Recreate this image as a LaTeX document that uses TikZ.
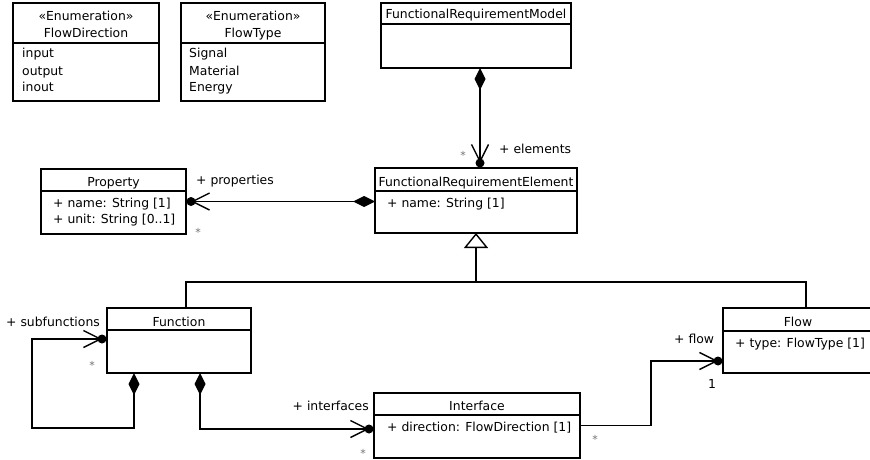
\documentclass[tikz,border=0pt]{standalone}
\usepackage{fontspec}
\setmainfont{DejaVu Sans}
\usetikzlibrary{arrows.meta}

\tikzset{
  clsbox/.style={draw, line width=1.4pt, inner sep=0pt, outer sep=0pt, anchor=north west},
  clsline/.style={line width=1.4pt},
  lbl/.style={font=\fontsize{12.4}{14}\selectfont, inner sep=0pt, anchor=base},
  attr/.style={lbl, anchor=base west},
  mult/.style={font=\fontsize{11}{11}\selectfont, text=black!55, inner sep=0pt},
  conn/.style={line width=1.4pt, line join=miter},
  comp/.style={conn, {Diamond[length=22pt,width=11pt]}-{Straight Barb[length=17pt,width=17pt]}},
  assoc/.style={conn, -{Straight Barb[length=17pt,width=17pt]}},
  gen/.style={conn, -{Triangle[open,length=15pt,width=24pt]}},
  ball/.style={fill=black},
}

% class box: name, x1, y1, x2, y2, y of the compartment line
\newcommand\umlbox[6]{%
  \node[clsbox, minimum width={(#4)-(#2)}, minimum height={(#5)-(#3)}] (#1) at (#2,#3) {};
  \draw[clsline] (#2,#6) -- (#4,#6);}

\begin{document}
\begin{tikzpicture}[x=1pt,y=-1pt]
\useasboundingbox (0,0) rectangle (870,460);
\clip (0,0) rectangle (870,460);

% enumerations
\umlbox{fdir}{13}{3}{159}{101}{43}
\node[lbl] at (86,21) {«Enumeration»};
\node[lbl] at (86,38) {FlowDirection};
\node[attr] at (22,58) {input};
\node[attr] at (22,75) {output};
\node[attr] at (22,92) {inout};

\umlbox{ftype}{181}{3}{325}{101}{43}
\node[lbl] at (253,21) {«Enumeration»};
\node[lbl] at (253,38) {FlowType};
\node[attr] at (189,58) {Signal};
\node[attr] at (189,75) {Material};
\node[attr] at (189,92) {Energy};

% classes
\umlbox{frm}{381}{3}{571}{68}{24}
\node[lbl] at (476,19) {FunctionalRequirementModel};

\umlbox{fre}{375}{168}{577}{233}{191}
\node[lbl] at (476,186) {FunctionalRequirementElement};
\node[attr] at (387,207) {+ name: String [1]};

\umlbox{prop}{41}{169}{186}{234}{191}
\node[lbl] at (113.5,186) {Property};
\node[attr] at (53,207) {+ name: String [1]};
\node[attr] at (53,223) {+ unit: String [0..1]};

\umlbox{func}{107}{308}{251}{373}{330}
\node[lbl] at (179,326) {Function};

\umlbox{iface}{374}{393}{580}{458}{415}
\node[lbl] at (477,410) {Interface};
\node[attr] at (387,431) {+ direction: FlowDirection [1]};

\umlbox{flow}{723}{308}{873}{373}{331}
\node[lbl] at (798,326) {Flow};
\node[attr] at (735,347) {+ type: FlowType [1]};

% association ends
\coordinate (eball) at ([xshift=4pt,yshift=5pt]fre.north);
\coordinate (pball) at ([xshift=5pt]prop.east);
\coordinate (sball) at ([xshift=-5pt,yshift=1.5pt]func.west);
\coordinate (iball) at ([xshift=-5pt,yshift=-3.5pt]iface.west);
\coordinate (fball) at ([xshift=-5pt,yshift=-20.5pt]flow.west);

% compositions
\draw[comp] ([xshift=4pt]frm.south) -- (eball);
\draw[comp] (fre.west |- pball) -- (pball);
\draw[comp] ([xshift=-45pt]func.south) -- ++(0,55) -| ([xshift=-70pt]sball) -- (sball);
\draw[comp] ([xshift=21pt]func.south) |- (iball);

% directed association
\draw[assoc] (iface.east) -- ++(71,0) |- (fball);

% generalization
\coordinate (gj) at ([yshift=-49pt]fre.south);
\draw[conn] ([xshift=7pt]func.north) |- (gj) -| ([xshift=8pt]flow.north);
\draw[gen] (gj) -- (fre.south);

% ownership dots
\foreach \b in {eball,pball,sball,iball,fball}
  \fill[ball] (\b) circle (4.5pt);

% role names and multiplicities
\node[attr] at (499,153) {+ elements};
\node[mult] at (463,155) {*};
\node[attr] at (196,184) {+ properties};
\node[mult] at (198,232) {*};
\node[attr] at (6,326) {+ subfunctions};
\node[mult] at (92,365) {*};
\node[lbl, anchor=base east] at (369,410) {+ interfaces};
\node[mult] at (363,453) {*};
\node[attr] at (674,343) {+ flow};
\node[lbl] at (712,388) {1};
\node[mult] at (595,439) {*};
\end{tikzpicture}
\end{document}
